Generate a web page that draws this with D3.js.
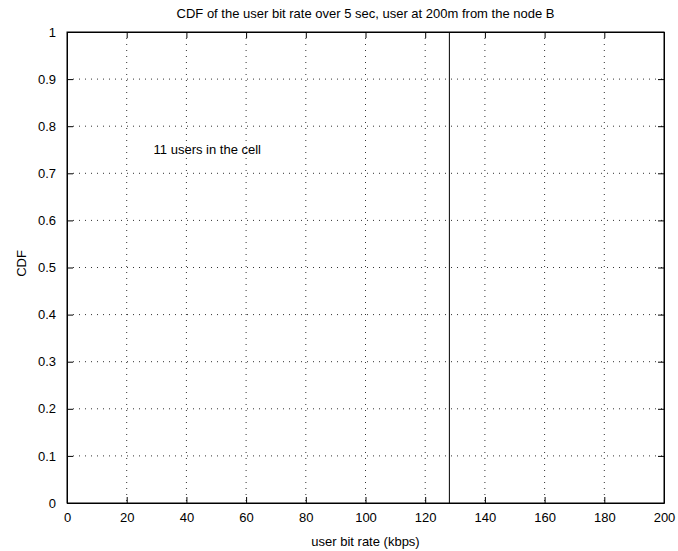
<!DOCTYPE html>
<html>
<head>
<meta charset="utf-8">
<script src="https://cdn.jsdelivr.net/npm/d3@7"></script>
<style>
  body { margin: 0; background: #fff; }
  text { font-family: "Liberation Sans", Arial, Helvetica, sans-serif; }
</style>
</head>
<body>
<div id="chart"></div>
<script>
// CDF of the user bit rate, one user, 11 users in the cell
const bitRate = [128.1, 128.1];
const cdf = [0, 1];

const xTicks = [0, 20, 40, 60, 80, 100, 120, 140, 160, 180, 200];
const yTicks = [0, 0.1, 0.2, 0.3, 0.4, 0.5, 0.6, 0.7, 0.8, 0.9, 1];

const annotation = { x: 29, y: 0.75, text: "11 users in the cell" };

const W = 678, H = 551;
const margin = { top: 32, right: 14, bottom: 48, left: 67 };
const width = W - margin.left - margin.right;
const height = H - margin.top - margin.bottom;
const tickLen = 6;

const svg = d3.select("#chart")
  .append("svg")
  .attr("width", W)
  .attr("height", H);

const chart = svg.append("g")
  .attr("transform", `translate(${margin.left},${margin.top})`);

const x = d3.scaleLinear().domain([0, 200]).range([0, width]);
const y = d3.scaleLinear().domain([0, 1]).range([height, 0]);

// grid
chart.append("g")
  .selectAll("line")
  .data(xTicks.slice(1, -1))
  .join("line")
  .attr("x1", d => x(d)).attr("x2", d => x(d))
  .attr("y1", 0).attr("y2", height)
  .attr("stroke", "#333")
  .attr("stroke-width", 1)
  .attr("stroke-dasharray", "1,5");

chart.append("g")
  .selectAll("line")
  .data(yTicks.slice(1, -1))
  .join("line")
  .attr("y1", d => y(d)).attr("y2", d => y(d))
  .attr("x1", 0).attr("x2", width)
  .attr("stroke", "#333")
  .attr("stroke-width", 1)
  .attr("stroke-dasharray", "1,5");

// axes (ticks inside, box on)
const fmt = d => String(d);
chart.append("g")
  .attr("transform", `translate(0,${height})`)
  .call(d3.axisBottom(x).tickValues(xTicks).tickFormat(fmt).tickSizeInner(-tickLen).tickSizeOuter(0).tickPadding(tickLen + 4));
chart.append("g")
  .call(d3.axisTop(x).tickValues(xTicks).tickFormat("").tickSizeInner(-tickLen).tickSizeOuter(0));
chart.append("g")
  .call(d3.axisLeft(y).tickValues(yTicks).tickFormat(fmt).tickSizeInner(-tickLen).tickSizeOuter(0).tickPadding(tickLen + 5));
chart.append("g")
  .attr("transform", `translate(${width},0)`)
  .call(d3.axisRight(y).tickValues(yTicks).tickFormat("").tickSizeInner(-tickLen).tickSizeOuter(0));

chart.selectAll(".domain").attr("stroke", "#000");
chart.selectAll(".tick line").attr("stroke", "#000");
chart.selectAll(".tick text")
  .style("font-size", "13px")
  .attr("fill", "#000");

chart.append("rect")
  .attr("width", width)
  .attr("height", height)
  .attr("fill", "none")
  .attr("stroke", "#000");

// data line
const line = d3.line()
  .x((d, i) => x(bitRate[i]))
  .y(d => y(d));

chart.append("path")
  .datum(cdf)
  .attr("fill", "none")
  .attr("stroke", "#000")
  .attr("stroke-width", 1)
  .attr("d", line);

// annotation
chart.append("text")
  .attr("x", x(annotation.x))
  .attr("y", y(annotation.y))
  .attr("dy", "0.35em")
  .style("font-size", "13px")
  .text(annotation.text);

// titles
svg.append("text")
  .attr("x", margin.left + width / 2)
  .attr("y", 18)
  .attr("text-anchor", "middle")
  .style("font-size", "13px")
  .text("CDF of the user bit rate over 5 sec, user at 200m from the node B");

svg.append("text")
  .attr("x", margin.left + width / 2)
  .attr("y", 546)
  .attr("text-anchor", "middle")
  .style("font-size", "13px")
  .text("user bit rate (kbps)");

svg.append("text")
  .attr("transform", "rotate(-90)")
  .attr("x", -(margin.top + height / 2) + 4)
  .attr("y", 26)
  .attr("text-anchor", "middle")
  .style("font-size", "13px")
  .text("CDF");
</script>
</body>
</html>
